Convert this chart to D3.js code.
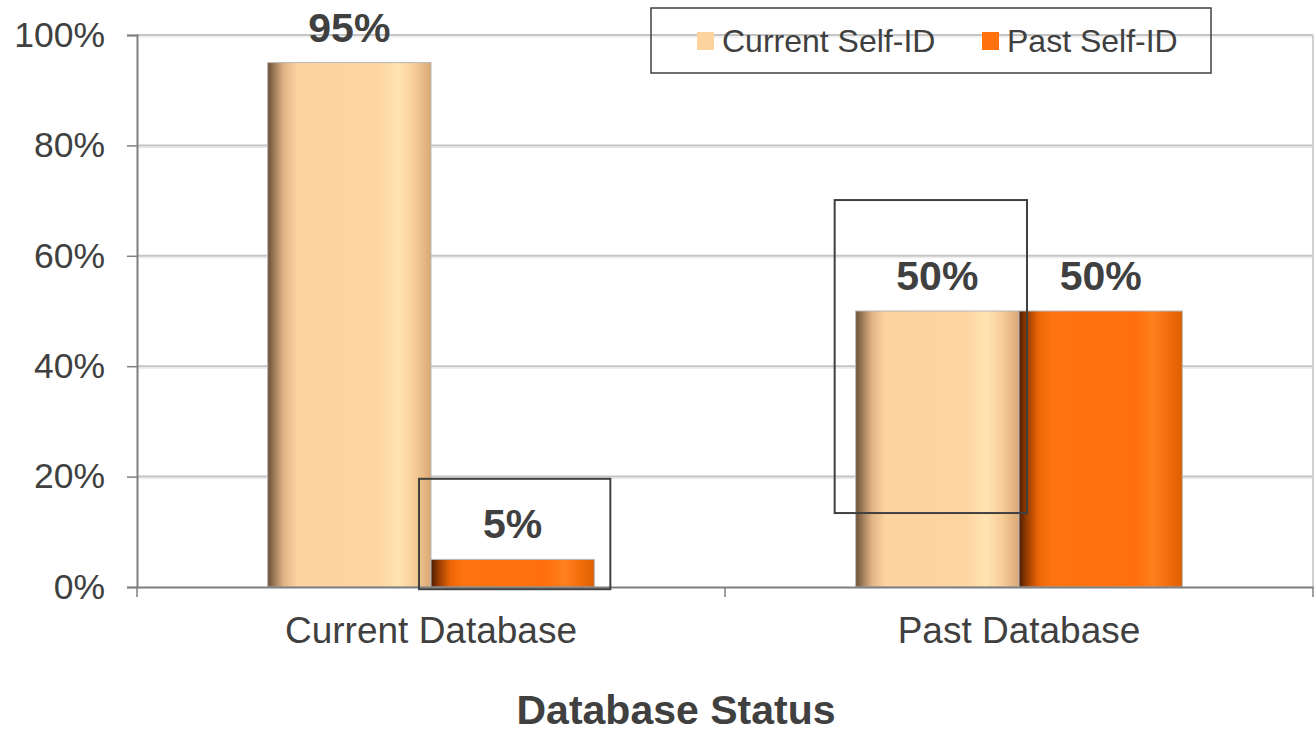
<!DOCTYPE html>
<html>
<head>
<meta charset="utf-8">
<script src="https://cdn.jsdelivr.net/npm/d3@7"></script>
<style>
  body { margin: 0; background: #fff; }
  text { font-family: "Liberation Sans", Arial, sans-serif; fill: #404040; }
</style>
</head>
<body>
<svg id="chart" width="1314" height="734"></svg>
<script>
// data
const categories = ["Current Database", "Past Database"];
const series = ["Current Self-ID", "Past Self-ID"];
const currentSelfId = [95, 50];
const pastSelfId = [5, 50];
const yTicks = [0, 20, 40, 60, 80, 100];
// highlight boxes: [category, series, low %, high %]
const boxCategory = ["Current Database", "Past Database"];
const boxSeries = ["Past Self-ID", "Current Self-ID"];
const boxLow = [-0.4, 13.4];
const boxHigh = [19.6, 70.1];

let width = 1314;
let height = 734;
let margin = { left: 137, right: 1, top: 35, bottom: 147 };

let svg = d3.select("#chart");

// scales
let x0 = d3.scaleBand().domain(categories).range([margin.left, width - margin.right]);
let x1 = d3.scaleBand().domain(series).range([0, x0.bandwidth()]).paddingOuter(0.8);
let y = d3.scaleLinear().domain([0, 100]).range([height - margin.bottom, margin.top]);

let values = { "Current Self-ID": currentSelfId, "Past Self-ID": pastSelfId };
let colors = { "Current Self-ID": "#fdd4a0", "Past Self-ID": "#ff720e" };

// cylinder-ish gradients
let defs = svg.append("defs");
let gradStops = {
  "Current Self-ID": [
    [0, "#6a4e36"], [0.04, "#9c7a58"], [0.1, "#e2b486"], [0.18, "#fdd39f"],
    [0.68, "#fdd5a1"], [0.8, "#ffe4b2"], [0.9, "#f6cc96"], [1, "#d9a775"]
  ],
  "Past Self-ID": [
    [0, "#4d1d00"], [0.05, "#9a3e00"], [0.12, "#ec6606"], [0.2, "#ff7410"],
    [0.72, "#ff700c"], [0.82, "#ff8020"], [0.92, "#f16c0a"], [1, "#dc5f00"]
  ]
};
series.forEach(function(s, i) {
  let g = defs.append("linearGradient").attr("id", "grad" + i)
    .attr("x1", "0%").attr("x2", "100%").attr("y1", "0%").attr("y2", "0%");
  gradStops[s].forEach(function(st) {
    g.append("stop").attr("offset", st[0]).attr("stop-color", st[1]);
  });
});

// gridlines
let grid = svg.append("g");
grid.selectAll("line.g1").data(yTicks.filter(d => d > 0)).enter().append("line")
  .attr("x1", margin.left).attr("x2", width - margin.right)
  .attr("y1", d => y(d) + 2).attr("y2", d => y(d) + 2)
  .attr("stroke", "#e6e6e6").attr("stroke-width", 1);
grid.selectAll("line.g2").data(yTicks.filter(d => d > 0)).enter().append("line")
  .attr("x1", margin.left).attr("x2", width - margin.right)
  .attr("y1", d => y(d)).attr("y2", d => y(d))
  .attr("stroke", "#c4c4c4").attr("stroke-width", 2);
// right border of plot
grid.append("line")
  .attr("x1", width - 1).attr("x2", width - 1)
  .attr("y1", y(100)).attr("y2", y(0))
  .attr("stroke", "#d0d0d0").attr("stroke-width", 2);

// bars
let groups = svg.append("g").selectAll("g").data(categories).enter().append("g")
  .attr("transform", d => "translate(" + x0(d) + ",0)");

groups.selectAll("rect").data(function(c, ci) {
  return series.map(function(s, si) { return { s: s, si: si, v: values[s][ci] }; });
}).enter().append("rect")
  .attr("x", d => x1(d.s))
  .attr("y", d => y(d.v))
  .attr("width", x1.bandwidth())
  .attr("height", d => y(0) - y(d.v))
  .attr("fill", d => "url(#grad" + d.si + ")")
  .attr("stroke", "#b8b8b8").attr("stroke-width", 1);

// value labels
groups.selectAll("text").data(function(c, ci) {
  return series.map(function(s) { return { s: s, v: values[s][ci] }; });
}).enter().append("text")
  .attr("x", d => x1(d.s) + x1.bandwidth() / 2)
  .attr("y", d => y(d.v) - 21)
  .attr("text-anchor", "middle")
  .style("font-size", "41px").style("font-weight", "bold")
  .text(d => d.v + "%");

// y axis
let yAxis = svg.append("g").attr("transform", "translate(" + margin.left + ",0)")
  .call(d3.axisLeft(y).tickValues(yTicks).tickSize(10).tickPadding(22).tickFormat(d => d + "%"));
yAxis.select(".domain").attr("stroke", "#7f7f7f").attr("stroke-width", 2);
yAxis.selectAll(".tick line").attr("stroke", "#7f7f7f").attr("stroke-width", 1.5);
yAxis.selectAll(".tick text").style("font-size", "35.5px").attr("fill", "#404040")
  .attr("font-family", null);

// x axis
let xAxis = svg.append("g").attr("transform", "translate(0," + y(0) + ")")
  .call(d3.axisBottom(x0).tickSize(0).tickPadding(30));
xAxis.select(".domain").attr("stroke", "#7f7f7f").attr("stroke-width", 2);
xAxis.selectAll(".tick text").style("font-size", "37px").attr("fill", "#404040")
  .attr("font-family", null).attr("dy", "0.71em");
// category boundary ticks
let bounds = categories.map(c => x0(c)).concat([x0(categories[categories.length - 1]) + x0.bandwidth()]);
xAxis.selectAll("line.bound").data(bounds).enter().append("line")
  .attr("x1", d => d).attr("x2", d => d).attr("y1", 0).attr("y2", 10)
  .attr("stroke", "#7f7f7f").attr("stroke-width", 1.5);

// axis title
svg.append("text")
  .attr("x", 676).attr("y", 724)
  .attr("text-anchor", "middle")
  .style("font-size", "41px").style("font-weight", "bold")
  .text("Database Status");

// highlight boxes
boxCategory.forEach(function(c, i) {
  let bx = x0(c) + x1(boxSeries[i]);
  let padL = i === 0 ? 12 : 21;
  let padR = i === 0 ? 16 : 8;
  svg.append("rect")
    .attr("x", bx - padL)
    .attr("y", y(boxHigh[i]))
    .attr("width", x1.bandwidth() + padL + padR)
    .attr("height", y(boxLow[i]) - y(boxHigh[i]))
    .attr("fill", "none").attr("stroke", "#404040").attr("stroke-width", 2);
});

// legend
let legend = svg.append("g");
legend.append("rect")
  .attr("x", 651).attr("y", 8).attr("width", 560).attr("height", 65)
  .attr("fill", "none").attr("stroke", "#404040").attr("stroke-width", 1.5);
let legendX = [697, 982];
series.forEach(function(s, i) {
  legend.append("rect")
    .attr("x", legendX[i]).attr("y", 32).attr("width", 17).attr("height", 18)
    .attr("fill", colors[s]);
  legend.append("text")
    .attr("x", legendX[i] + 25).attr("y", 52)
    .style("font-size", "32px")
    .text(s);
});
</script>
</body>
</html>
